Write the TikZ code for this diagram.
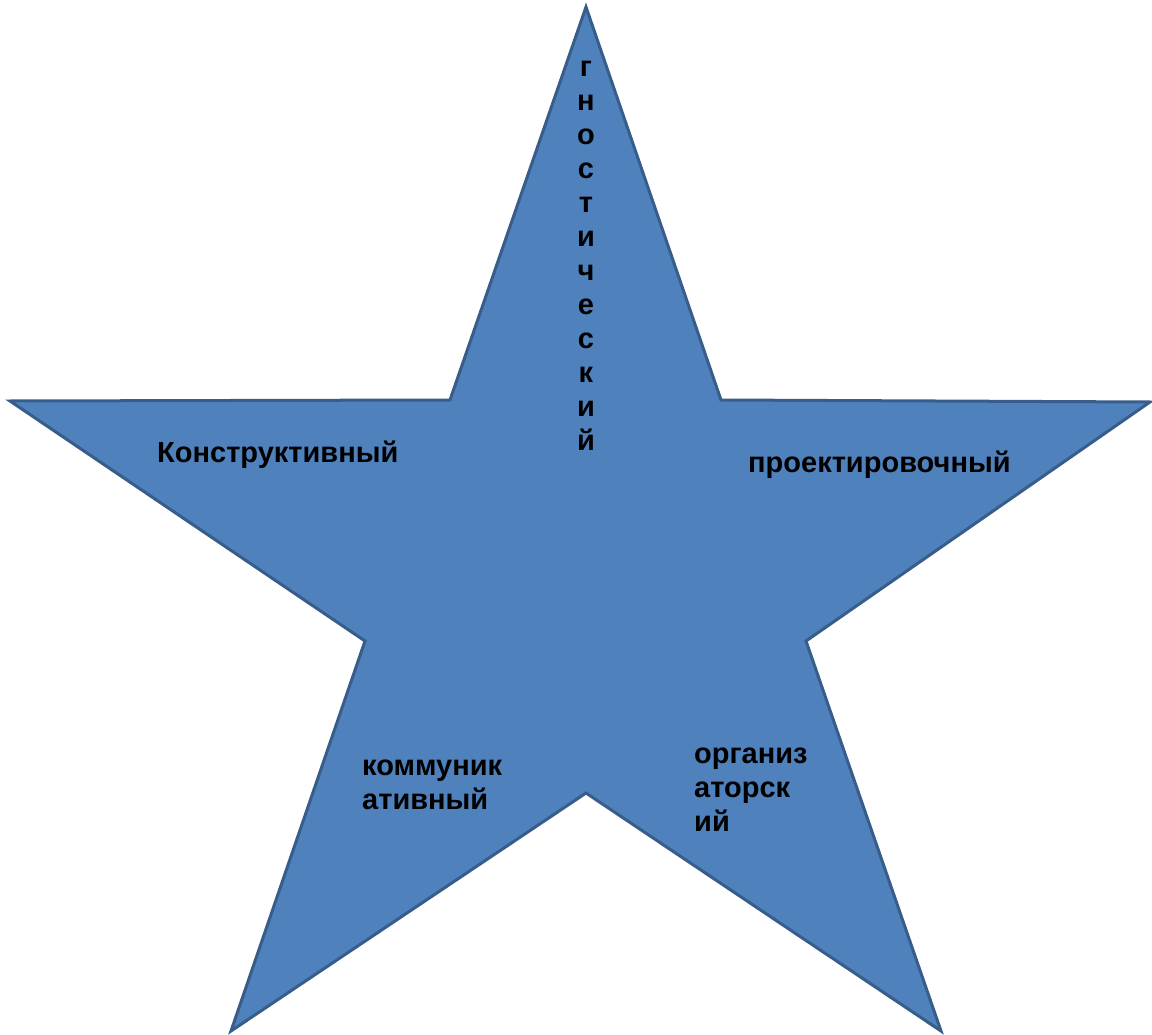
\documentclass[tikz,border=0pt]{standalone}
\usepackage{fontspec}
\setmainfont{Liberation Sans}
\begin{document}
\begin{tikzpicture}[x=1pt,y=-1pt,
  starfill/.style={fill={rgb,255:red,79;green,129;blue,189},draw={rgb,255:red,56;green,93;blue,138},line width=3pt,line join=miter},
  lbl/.style={font=\bfseries\fontsize{29}{34}\selectfont,text=black,inner sep=0pt,align=left}]
\useasboundingbox (0,0) rectangle (1152,1035);
\coordinate (o1) at (586,7);
\coordinate (i1) at (721,400);
\coordinate (o2) at (1150,402);
\coordinate (i2) at (806,641);
\coordinate (o3) at (941,1031);
\coordinate (i3) at (586,793);
\coordinate (o4) at (231,1031);
\coordinate (i4) at (365,641);
\coordinate (o5) at (10,401);
\coordinate (i5) at (450,400);
\draw[starfill] (o1) -- (i1) -- (o2) -- (i2) -- (o3) -- (i3) -- (o4) -- (i4) -- (o5) -- (i5) -- cycle;
\node[lbl,anchor=base west] (k) at (157,462) {Конструктивный};
\node[lbl,anchor=base west] (p) at (748,472) {проектировочный};
\node[lbl,anchor=north west] (km) at (362,760) {коммуник\\ативный};
\node[lbl,anchor=north west] (org) at (694,748) {организ\\аторск\\ий};
\node[lbl,anchor=north,align=center] (g) at (586,61) {г\\н\\о\\с\\т\\и\\ч\\е\\с\\к\\и\\й};
\end{tikzpicture}
\end{document}
